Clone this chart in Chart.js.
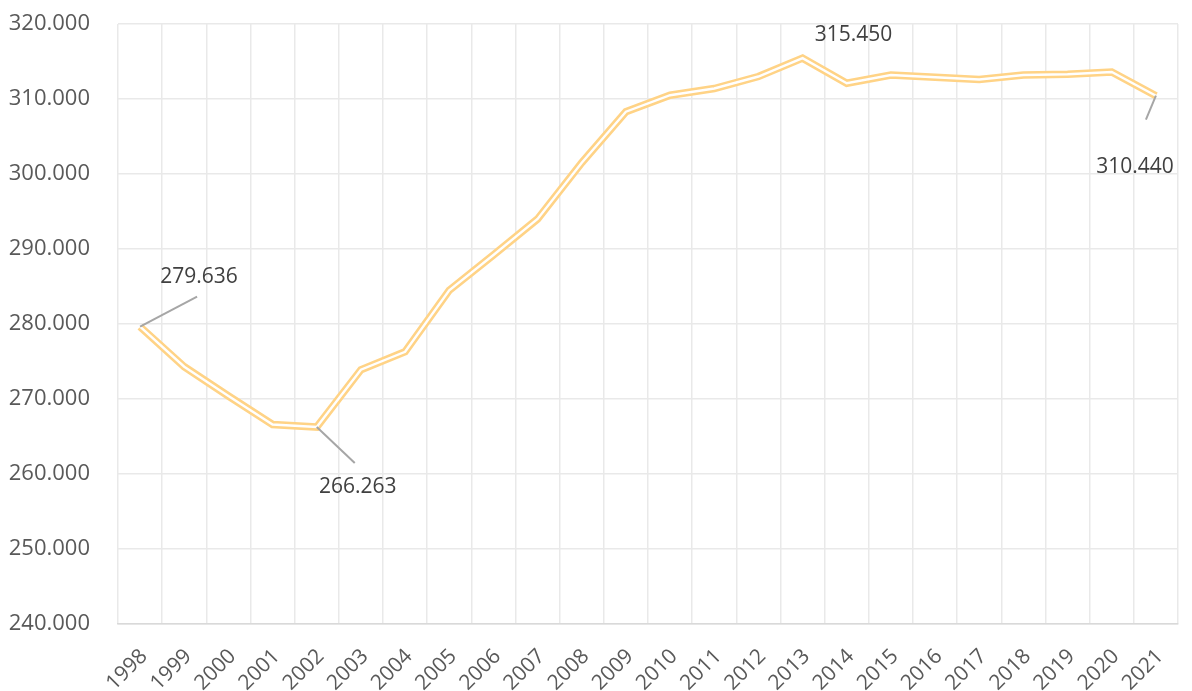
<!DOCTYPE html>
<html>
<head>
<meta charset="utf-8">
<script src="https://cdn.jsdelivr.net/npm/chart.js@4.4.1/dist/chart.umd.min.js"></script>
<style>
  html, body { margin: 0; padding: 0; background: #fff; }
  #wrap { width: 1192px; height: 691px; position: relative; }
</style>
</head>
<body>
<div id="wrap"><canvas id="chart"></canvas></div>
<script>
const years = ['1998', '1999', '2000', '2001', '2002', '2003', '2004', '2005', '2006', '2007', '2008', '2009',
  '2010', '2011', '2012', '2013', '2014', '2015', '2016', '2017', '2018', '2019', '2020', '2021'];

const values = [279.636, 274.3, 270.4, 266.6, 266.263, 273.9, 276.3, 284.5, 289.2, 294.0, 301.5, 308.3,
  310.5, 311.4, 313.0, 315.45, 312.1, 313.2, 312.9, 312.6, 313.2, 313.3, 313.6, 310.44];

// which points carry a value label
const labelled = [0, 4, 15, 23];

const yMin = 240;
const yMax = 320;
const yStep = 10;

const fmt = v => v.toFixed(3);

const FONT = "'Open Sans', sans-serif";
const lineColor = '#ffd386';

// label placement relative to the point: [textDx, textDy, leaderDx, leaderDy]
const labelPos = {
  0: [59, -50, 57, -30],
  4: [41, 60, 38, 36],
  15: [51, -23, null, null],
  23: [-21, 71, -10, 24]
};

const valueLabels = {
  id: 'valueLabels',
  afterDatasetsDraw(chart) {
    const ctx = chart.ctx;
    const meta = chart.getDatasetMeta(0);
    ctx.save();
    labelled.forEach(i => {
      const pt = meta.data[i];
      const p = labelPos[i];
      if (p[2] !== null) {
        ctx.strokeStyle = '#a6a6a6';
        ctx.lineWidth = 2;
        ctx.beginPath();
        ctx.moveTo(pt.x, pt.y);
        ctx.lineTo(pt.x + p[2], pt.y + p[3]);
        ctx.stroke();
      }
      ctx.fillStyle = '#404040';
      ctx.font = '21px ' + FONT;
      ctx.textAlign = 'center';
      ctx.textBaseline = 'middle';
      ctx.fillText(fmt(values[i]), pt.x + p[0], pt.y + p[1]);
    });
    ctx.restore();
  }
};

new Chart(document.getElementById('chart'), {
  type: 'line',
  data: {
    labels: years,
    datasets: [
      // white core on top, yellow outline below -> double line
      {
        data: values,
        borderColor: '#ffffff',
        borderWidth: 2.4,
        pointRadius: 0,
        tension: 0,
        order: 0
      },
      {
        data: values,
        borderColor: lineColor,
        borderWidth: 7.5,
        pointRadius: 0,
        tension: 0,
        order: 1
      }
    ]
  },
  options: {
    responsive: true,
    maintainAspectRatio: false,
    animation: false,
    layout: { padding: { top: 24, right: 14, left: 0, bottom: 0 } },
    plugins: {
      legend: { display: false },
      tooltip: { enabled: false }
    },
    scales: {
      x: {
        offset: true,
        grid: { offset: true, color: '#e9e9e9', lineWidth: 1.5, drawTicks: false },
        border: { color: '#d9d9d9', width: 1.5 },
        ticks: {
          color: '#595959',
          font: { family: FONT, size: 21 },
          minRotation: 45,
          maxRotation: 45,
          padding: 20,
          labelOffset: 4
        },
        afterFit: s => {
          s.height = 67;
          s.paddingLeft = 0;
          s.paddingRight = 0;
        }
      },
      y: {
        min: yMin,
        max: yMax,
        grid: { color: '#e9e9e9', lineWidth: 1.5, drawTicks: false },
        border: { display: false },
        ticks: {
          stepSize: yStep,
          color: '#595959',
          font: { family: FONT, size: 22 },
          padding: 28,
          callback: v => fmt(v)
        },
        afterFit: s => {
          s.width = 118;
          s.paddingTop = 0;
          s.paddingBottom = 0;
        }
      }
    }
  },
  plugins: [valueLabels]
});
</script>
</body>
</html>
